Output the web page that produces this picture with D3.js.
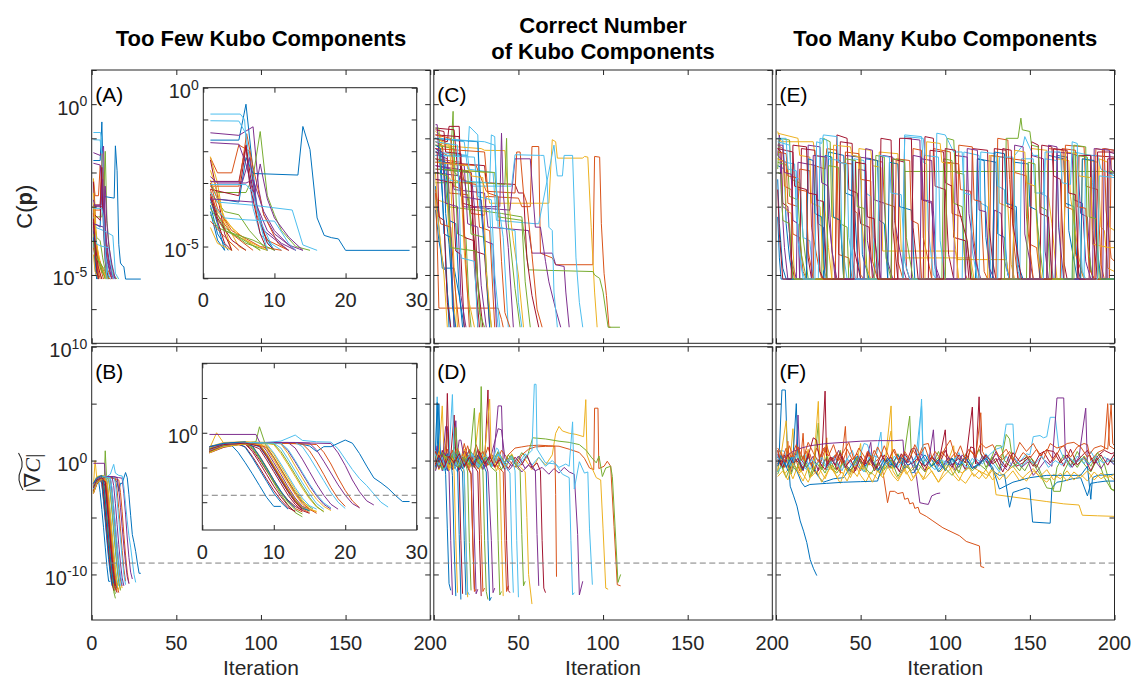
<!DOCTYPE html>
<html>
<head>
<meta charset="utf-8">
<script src="https://cdn.jsdelivr.net/npm/d3@7"></script>
<style>
body { margin: 0; background: #fff; }
svg { display: block; }
</style>
</head>
<body>
<div id="fig"></div>
<script>
// every trace is a flat list: iteration, log10(value), iteration, log10(value), ...
// column 1: too few Kubo components (main panels and insets share the data)
var fewCost = [
	[1,-1.65, 5,-1.65, 6,-0.52, 6.8,-2.2, 7.5,-3.7, 8.5,-4.6, 10,-5.12],
	[1,-2.2, 2,-2.68, 4,-2.68, 5,-1.8, 6.5,-2.0, 7.5,-4.0, 9,-4.8, 12,-5.12],
	[1,-2.17, 1.5,-2.6, 2,-3.0, 3,-4.4, 4,-5.12],
	[1,-1.42, 5,-1.5, 7,-1.23, 7.8,-3.2, 8.5,-4.0, 10,-4.6, 13,-5.12],
	[1,-3.1, 2,-3.3, 6,-3.3, 7,-2.8, 8,-1.38, 9,-3.4, 10,-4.0, 11,-4.5, 13,-5.0, 15,-5.12],
	[1,-0.83, 5.2,-0.83, 5.8,-1.0, 6.3,-2.6, 7,-3.8, 8,-4.6, 10,-5.12],
	[1,-2.95, 5,-2.95, 6,-1.8, 6.7,-2.9, 8,-4.2, 9,-4.9, 10,-5.12],
	[1,-3.0, 2,-3.5, 5,-3.6, 6,-2.2, 7,-2.7, 13.3,-2.75, 14,-1.22, 15,-1.95, 16,-4.1, 17,-4.65, 18,-4.72, 19,-4.76, 20,-5.12, 29,-5.12],
	[1,-3.1, 5,-3.1, 6.1,-1.45, 7,-2.5, 8.5,-4.0, 10.5,-4.9, 12,-5.12],
	[1,-3.4, 2,-3.9, 4,-4.4, 6,-4.8, 8,-5.12],
	[1,-1.73, 5,-1.78, 6,-2.4, 7,-3.3, 8.5,-4.5, 12,-5.12],
	[1,-3.3, 3,-3.9, 5,-4.0, 6.5,-4.5, 9,-5.12],
	[1,-1.04, 5,-1.05, 6,-1.45, 6.8,-2.8, 8,-4.2, 9.5,-4.9, 11,-5.12],
	[1,-2.27, 2,-3.4, 3,-4.6, 4,-5.12],
	[1,-3.5, 2,-4.3, 3,-5.12],
	[1,-3.2, 2,-4.0, 4,-4.6, 7,-5.12],
	[1,-2.6, 2,-3.3, 3,-4.2, 5,-5.0, 6,-5.12],
	[1,-2.8, 2,-3.0, 6,-3.0, 7,-2.9, 8.5,-3.9, 10,-4.5, 12,-4.95, 14,-5.12],
	[1,-3.6, 3,-4.4, 6,-4.9, 9,-5.12],
	[1,-3.3, 2,-3.6, 7,-3.7, 12.5,-3.85, 14,-4.95, 16,-5.12],
	[1,-3.2, 5,-3.4, 6,-1.85, 6.5,-3.0, 8,-4.6, 9,-5.12],
	[1,-3.7, 2,-4.6, 3.5,-5.12],
	[1,-3.0, 2,-3.8, 4,-4.5, 8,-5.0, 11,-5.12],
	[1,-2.9, 2,-3.5, 3,-4.1, 5,-4.7, 9,-5.12],
	[1,-2.96, 5.5,-2.96, 6.5,-2.2, 7.5,-3.7, 9,-4.5, 11,-4.9, 13,-5.12],
	[1,-3.8, 3,-4.5, 7,-4.8, 10,-5.12],
	[1,-3.6, 3,-4.1, 6,-4.16, 10,-4.2, 12,-4.9, 13,-5.12],
	[1,-3.35, 2,-4.1, 4,-4.8, 6,-5.12],
	[1,-3.9, 2,-4.8, 3,-5.12],
	[1,-4.2, 3,-4.7, 5,-5.12],
	[1,-4.4, 2,-4.9, 4,-5.12],
	[1,-3.5, 7,-3.6, 8,-2.4, 9,-3.5, 10,-4.1, 12,-4.7, 14,-5.12],
	[1,-4.0, 2,-4.4, 5,-4.7, 8,-5.12],
	[1,-3.05, 6,-3.05, 7,-3.3, 8,-4.3, 9,-5.12],
	[1,-3.45, 2,-4.2, 3,-4.9, 4,-5.12]
];

var fewGrad = [
	[1,-2.0, 3,-1.6, 6,-1.4, 10,-1.5, 13,-1.45, 15,-1.9, 16,-2.7, 17,-2.0, 18,-2.0, 20,-1.05, 21,-1.5, 22,-3.0, 23,-4.8, 24,-6.5, 25,-7.2, 26,-8.0, 27,-9.0, 28,-9.9, 29,-9.9],
	[1,-2.4, 3,-1.8, 6,-1.5, 10,-1.5, 14,-1.6, 16,-1.7, 17,-2.8, 18,-4.5, 19,-6.5, 20,-8.3, 21,-9.8, 22,-10.8],
	[1,-2.3, 2,0.0, 3,-1.5, 6,-1.3, 9,-1.4, 11,-1.6, 12,-3.0, 13,-4.8, 14,-6.5, 15,-8.2, 16,-9.6, 17,-10.6, 18,-11.2],
	[1,-2.2, 4,-1.6, 8,-1.4, 12,-1.4, 16,-1.5, 18,-1.55, 19,-2.9, 20,-4.7, 21,-6.8, 22,-8.5, 23,-9.8, 24,-10.4],
	[1,-2.5, 3,-1.8, 6,-1.5, 7.5,-1.3, 8,0.86, 8.7,-1.3, 9,-2.0, 10,-3.5, 11,-5.2, 12,-6.9, 13,-8.5, 14,-9.9, 15.5,-11.0],
	[1,-2.1, 4,-1.5, 8,-1.5, 11,-1.2, 13,-0.33, 14,-1.1, 16,-1.3, 18,-1.35, 19,-2.3, 20,-3.8, 21,-5.3, 22,-6.6, 23,-7.6, 24,-8.8, 25,-10.0, 26,-10.7],
	[1,-2.8, 3,-2.0, 5,-1.6, 6,-1.6, 7,-2.4, 8,-3.9, 9,-5.5, 10,-7.1, 11,-8.5, 12,-9.7, 13,-10.6, 14,-11.2],
	[1,-2.6, 3,-1.9, 4,-1.7, 5,-2.8, 6,-4.3, 7,-5.9, 8,-7.6, 9,-9.3, 10,-10.6, 11,-10.6],
	[1,-2.2, 4,-1.6, 8,-1.4, 12,-1.5, 14,-1.6, 15,-2.6, 16,-4.2, 17,-6.0, 18,-7.9, 19,-9.5, 20,-10.6],
	[1,-2.0, 3,-1.4, 6,-1.3, 8,-1.6, 9,-3.0, 10,-4.7, 11,-6.4, 12,-8.1, 13,-9.6, 14,-10.7, 15,-11.2],
	[1,-0.24, 7.5,-0.24, 8,-1.3, 9,-2.6, 10,-4.3, 11,-6.0, 12,-7.8, 13,-9.4, 14,-10.6, 15,-11.0],
	[1,-2.4, 3,-1.7, 6,-1.5, 7,-2.2, 8,-3.7, 9,-5.4, 10,-7.2, 11,-8.9, 12,-10.4, 13,-11.5, 14,-12.1],
	[1,-2.3, 4,-1.6, 9,-1.4, 13,-1.4, 14,-2.0, 15,-3.5, 16,-5.2, 17,-6.9, 18,-8.6, 19,-10.0, 20,-10.9],
	[1,-2.9, 3,-2.1, 5,-1.7, 6,-2.0, 7,-3.4, 8,-5.0, 9,-6.7, 10,-8.3, 11,-9.7, 12,-10.8, 13,-11.3],
	[1,-2.5, 3,-1.8, 5,-1.5, 6,-2.1, 7,-3.6, 8,-5.3, 9,-7.0, 10,-8.7, 11,-10.0, 12,-11.0],
	[1,-2.7, 3,-1.9, 6,-1.6, 7,-1.9, 8,-3.3, 9,-5.0, 10,-6.8, 11,-8.5, 12,-9.9, 13,-10.9, 14,-11.4],
	[1,-2.4, 3,-1.7, 6,-1.4, 8,-1.5, 9,-2.3, 10,-3.9, 11,-5.6, 12,-7.3, 13,-8.9, 14,-10.3, 15,-11.1, 16,-11.3],
	[1,-2.1, 4,-1.5, 8,-1.4, 12,-1.4, 13,-2.2, 14,-3.8, 15,-5.6, 16,-7.4, 17,-9.0, 18,-10.3, 19,-11.0],
	[1,-2.6, 3,-1.8, 6,-1.5, 8,-1.7, 9,-3.1, 10,-4.8, 11,-6.5, 12,-8.2, 13,-9.7, 14,-10.8, 15,-11.3],
	[1,-2.2, 3,-1.6, 7,-1.4, 9,-1.6, 10,-2.9, 11,-4.5, 12,-6.2, 13,-7.9, 14,-9.4, 15,-10.5, 16,-11.0],
	[1,-2.7, 3,-1.9, 6,-1.6, 7,-2.7, 8,-4.3, 9,-6.0, 10,-7.7, 11,-9.2, 12,-10.5, 13,-11.4],
	[1,-2.3, 3,-1.6, 6,-1.4, 8,-2.0, 9,-3.5, 10,-5.2, 11,-6.9, 12,-8.5, 13,-9.9, 14,-10.9, 15,-11.2],
	[1,-2.5, 4,-1.7, 7,-1.5, 9,-2.1, 10,-3.6, 11,-5.3, 12,-7.0, 13,-8.7, 14,-10.1, 15,-11.0, 16,-11.6],
	[1,-2.2, 4,-1.5, 8,-1.4, 10,-1.7, 11,-3.0, 12,-4.6, 13,-6.3, 14,-8.0, 15,-9.5, 16,-10.7, 17,-11.3],
	[1,-2.0, 4,-1.5, 9,-1.4, 11,-1.5, 12,-2.6, 13,-4.2, 14,-5.9, 15,-7.6, 16,-9.1, 17,-10.3, 18,-11.0],
	[1,-2.8, 3,-2.0, 6,-1.6, 7,-2.0, 8,-3.5, 9,-5.1, 10,-6.9, 11,-8.6, 12,-10.0, 13,-11.1, 14,-11.7],
	[1,-2.4, 4,-1.6, 8,-1.4, 11,-1.5, 12,-2.4, 13,-4.0, 14,-5.7, 15,-7.4, 16,-8.9, 17,-10.1, 18,-10.8],
	[1,-2.6, 3,-1.8, 6,-1.5, 8,-2.3, 9,-3.9, 10,-5.6, 11,-7.3, 12,-9.0, 13,-10.3, 14,-11.2, 15,-11.6],
	[1,-2.0, 3,-1.5, 6,-1.3, 7,-1.9, 8,-3.4, 9,-5.1, 10,-6.8, 11,-8.4, 12,-9.8, 13,-10.8],
	[1,-2.6, 3,-1.8, 7,-1.5, 8,-1.8, 9,-3.2, 10,-4.9, 11,-6.6, 12,-8.3, 13,-9.8, 14,-11.0, 15,-11.5],
	[1,-2.9, 3,-2.0, 6,-1.6, 9,-1.8, 10,-3.1, 11,-4.8, 12,-6.5, 13,-8.2, 14,-9.7, 15,-10.9, 16,-11.4],
	[1,-2.3, 4,-1.6, 9,-1.4, 13,-1.4, 15,-1.5, 16,-2.5, 17,-4.1, 18,-5.8, 19,-7.5, 20,-9.0, 21,-10.2, 22,-10.8],
	[1,-2.3, 4,-1.6, 8,-1.4, 10,-1.6, 11,-2.7, 12,-4.3, 13,-6.0, 14,-7.7, 15,-9.3, 16,-10.6, 17,-11.4],
	[1,-2.5, 3,-1.7, 7,-1.4, 10,-1.5, 11,-2.2, 12,-3.8, 13,-5.5, 14,-7.2, 15,-8.8, 16,-10.2, 17,-11.0],
	[1,-2.4, 3,-1.7, 6,-1.5, 8,-1.9, 9,-3.4, 10,-5.1, 11,-6.8, 12,-8.5, 13,-10.0, 14,-11.0]
];

// column 2: correct number of Kubo components
var rightCost = [
	[1,-2.4, 5,-4.8, 7,-4.85, 8,-5.5, 10,-6.53],
	[1,-1.3, 8,-1.5, 9,-2.6, 20,-2.65, 22,-3.2, 30,-3.25, 31,-2.7, 50,-2.75, 52,-3.0, 57,-3.0, 58,-1.24, 62,-1.24, 63,-4.36, 70,-4.5, 72,-4.7, 94,-4.7, 95,-1.53, 98,-1.55, 99,-3.5, 100.6,-4.95, 102,-5.6, 103.5,-6.53, 104.5,-6.53],
	[1,-1.0, 10,-1.2, 12,-1.9, 30,-2.0, 33,-2.9, 68,-2.9, 70,-1.04, 72,-1.1, 73,-1.58, 88,-1.58, 89,-1.53, 91,-1.55, 93,-3.6, 95,-5.5, 96.5,-6.53],
	[1,-1.8, 10,-1.9, 12,-2.5, 30,-2.6, 32,-3.6, 56,-3.7, 58,-4.36, 70,-4.36, 72,-4.7, 77,-4.75, 78,-5.5, 80,-6.53],
	[1,-1.6, 6,-1.8, 8,-3.0, 25,-3.1, 40,-3.2, 52,-3.3, 56,-4.85, 94,-4.9, 95,-5.0, 98,-5.1, 100,-5.5, 103,-6.53, 110,-6.53],
	[1,-1.0, 18,-1.1, 20,-1.9, 35,-2.0, 37,-3.4, 60,-3.5, 62,-3.5, 71,-1.2, 73,-2.1, 76,-2.1, 77,-1.5, 82,-1.5, 84,-4.5, 86,-5.8, 88,-6.53],
	[1,-1.1, 5,-1.2, 6,-1.7, 30,-1.8, 31,-2.3, 48,-2.35, 50,-2.6, 53,-2.6, 55,-4.5, 58,-5.6, 62,-6.53],
	[1,-3.1, 3,-4.0, 6,-4.8, 12,-4.8, 15,-5.6, 18,-6.53],
	[1,-1.7, 25,-1.8, 31,-2.55, 48,-2.6, 49,-1.4, 51,-1.4, 53,-2.6, 55,-2.9, 58,-4.4, 61,-6.0, 64,-6.53],
	[1,-1.2, 28,-1.3, 30,-1.35, 42,-1.36, 44,-2.8, 47,-4.0, 50,-5.0, 53,-6.53],
	[1,-2.0, 15,-2.1, 17,-3.0, 45,-3.1, 48,-1.6, 57,-1.6, 60,-3.6, 63,-3.6, 66,-4.6, 68,-5.2, 72,-6.0, 75,-6.53],
	[1,-1.5, 10,-1.5, 11.4,-0.21, 12,-2.0, 18,-2.2, 24,-4.0, 28,-6.53],
	[1,-1.4, 20,-1.5, 22,-2.4, 46,-2.4, 48,-1.48, 63,-1.5, 65,-1.5, 67,-2.3, 68,-3.6, 70,-3.7, 71,-5.5, 73,-6.53],
	[1,-1.0, 8,-1.1, 9,-0.65, 15,-0.65, 16,-2.2, 22,-2.3, 24,-4.8, 27,-6.53],
	[1,-1.3, 3,-1.4, 5,-2.6, 7,-4.4, 9,-6.53],
	[1,-2.6, 2,-4.0, 3,-5.97, 38,-5.97, 40,-6.3, 41,-6.53],
	[1,-0.8, 4,-0.9, 6,-2.0, 10,-2.2, 12,-4.8, 14,-6.53],
	[1,-1.9, 22,-2.0, 24,-3.0, 39,-3.0, 40,-0.85, 41,-2.6, 44,-4.2, 47,-6.53],
	[1,-2.3, 30,-2.3, 42,-2.35, 43,-1.0, 44,-3.5, 48,-5.4, 51,-6.53],
	[1,-1.5, 20,-1.5, 21,-0.65, 26,-0.9, 27,-3.0, 33,-3.1, 35,-5.0, 38,-6.53],
	[1,-0.7, 12,-0.75, 14,-1.9, 22,-2.0, 24,-4.3, 30,-4.4, 33,-6.53],
	[1,-1.6, 7,-1.7, 9,-3.4, 13,-3.5, 15,-5.5, 17,-6.53],
	[1,-1.6, 16,-1.7, 18,-2.3, 25,-2.35, 27,-3.6, 33,-3.7, 36,-6.53],
	[1,-2.0, 2,-2.8, 8,-2.9, 10,-4.6, 13,-6.53],
	[1,-1.8, 14,-1.9, 16,-2.7, 28,-2.8, 30,-4.0, 35,-4.1, 37,-6.53],
	[1,-1.2, 12,-1.3, 14,-3.8, 19,-3.9, 21,-6.0, 22,-6.53],
	[1,-2.2, 33,-2.3, 34,-0.9, 36,-0.95, 37,-2.5, 41,-3.9, 44,-6.53],
	[1,-0.9, 15,-0.95, 17,-2.9, 24,-3.0, 26,-5.2, 29,-6.53],
	[1,-1.4, 6,-1.5, 7,-3.2, 9,-4.1, 11,-5.5, 12,-6.53],
	[1,-2.5, 4,-3.5, 10,-3.6, 12,-5.1, 15,-6.53],
	[1,-1.1, 9,-1.2, 11,-2.2, 16,-2.3, 18,-4.3, 20,-5.6, 24,-6.53],
	[1,-1.7, 18,-1.8, 20,-3.5, 26,-3.6, 28,-5.3, 31,-6.53],
	[1,-0.7, 3,-0.7, 4,-1.9, 20,-2.0, 22,-3.8, 30,-3.9, 32,-5.6, 34,-6.53],
	[1,-1.5, 24,-1.55, 26,-2.7, 34,-2.8, 36,-5.0, 39,-6.53],
	[1,-2.2, 11,-2.3, 13,-4.3, 16,-4.4, 18,-6.53],
	[1,-1.0, 26,-1.1, 28,-3.1, 31,-4.9, 33,-6.53],
	[1,-1.3, 30,-1.4, 32,-2.6, 38,-2.7, 40,-4.6, 42,-6.1, 45,-6.53],
	[1,-2.8, 3,-3.6, 6,-5.0, 8,-6.53],
	[1,-0.6, 2,-0.6, 3,-1.5, 8,-1.6, 10,-3.9, 12,-6.53],
	[1,-1.9, 36,-2.0, 38,-3.3, 52,-3.4, 54,-5.2, 57,-6.53],
	[1,-1.0, 30,-1.1, 36,-1.2, 38,-3.6, 48,-3.7, 50,-5.8, 52,-6.53],
	[1,-0.75, 6,-0.8, 7,-1.4, 16,-1.45, 18,-3.9, 24,-4.0, 26,-6.53],
	[1,-1.2, 4,-1.3, 6,-3.8, 10,-3.9, 11,-5.9, 13,-6.53],
	[1,-0.9, 10,-1.0, 12,-2.4, 17,-2.5, 19,-4.7, 21,-6.53],
	[1,-1.7, 20,-1.8, 22,-2.1, 29,-2.15, 31,-4.9, 34,-6.53],
	[1,-1.3, 5,-1.4, 7,-2.9, 14,-3.0, 16,-5.6, 19,-6.53],
	[1,-2.0, 8,-2.1, 10,-4.2, 25,-4.3, 27,-6.1, 30,-6.53],
	[1,-1.1, 14,-1.2, 16,-4.5, 24,-4.6, 26,-6.53],
	[1,-1.4, 2,-1.4, 3,-3.3, 6,-3.4, 8,-5.8, 10,-6.53]
];

var rightGrad = [
	[1,-0.5, 2,0.8, 3,5.0, 4,0.2, 5,-0.6, 6,0.4, 7,-1.2, 8,-6.0, 9,-10.8, 10,-11.4],
	[1,-0.2, 3,0.9, 5,-0.6, 7,1.4, 9,-0.3, 12,0.6, 15,-0.8, 18,1.5, 20,0.3, 23,-0.5, 26,0.9, 29,-0.2, 32,1.2, 35,-0.4, 38,0.7, 41,-0.6, 44,0.5, 48,1.1, 52,1.2, 56,1.3, 62,1.35, 68,1.3, 74,1.26, 80,1.0, 86,0.7, 89,0.2, 92,-0.65, 94.5,-0.8, 95,4.6, 97,4.6, 97.5,-0.7, 100.6,-0.5, 102.5,-0.06, 104.5,-0.5, 106.5,-5.8, 108.4,-10.9, 110.4,-11.0],
	[1,0.5, 3,-0.8, 6,0.4, 8,2.5, 9,-0.3, 12,0.6, 15,-0.5, 18,1.0, 21,-0.7, 24,0.3, 27,4.2, 28,0.2, 31,-0.6, 34,0.5, 37,-0.9, 40,0.2, 43,-0.4, 46,0.6, 50,-0.6, 54,0.1, 58,-0.8, 62,0.3, 66,-0.4, 70,0.5, 72,2.4, 74,3.0, 76,2.6, 80,2.4, 84,2.3, 88.5,2.1, 89.8,5.35, 90.5,0.5, 93,-0.5, 96,-1.5, 98.6,-1.7, 100,-6.0, 101.6,-11.2, 103,-11.3],
	[1,-0.4, 3,0.6, 5,-0.9, 8,0.2, 11,-0.5, 13,3.5, 14,0.1, 17,-0.7, 20,0.4, 23,-0.3, 26,1.0, 29,-0.8, 32,0.3, 35,-0.5, 38,4.8, 40,4.8, 41,0.0, 44,-0.9, 48,-0.2, 52,-1.0, 56,-0.4, 60,-0.9, 64,-0.6, 68,-1.2, 71,-0.7, 74,-1.1, 77,-0.6, 80,-1.0, 83,-1.2, 85,-6.5, 86,-11.8, 88,-10.6],
	[1,0.3, 3,-0.6, 6,0.8, 9,-0.4, 12,1.2, 15,0.2, 18,-0.5, 21,1.0, 24,0.3, 27,-0.6, 28,6.5, 29,0.2, 32,-0.4, 36,0.5, 40,-0.8, 44,0.5, 48,-0.3, 52,0.7, 55,0.2, 58.4,2.0, 66,1.9, 74,1.7, 80,1.6, 86,1.4, 90,0.9, 93,0.3, 96,-0.2, 97.6,0.4, 99.6,-1.4, 101.6,-0.65, 104.5,-0.5, 105.5,-1.4, 107.5,-6.9, 108.8,-10.7, 110.4,-10.0],
	[1,0.2, 2,5.6, 3,0.4, 5,-0.6, 8,0.5, 11,-0.2, 14,-1.0, 17,0.3, 20,-0.6, 23,0.4, 26,-0.3, 30,0.8, 34,-0.5, 38,0.2, 42,-0.8, 46,0.4, 50,-0.3, 54,0.6, 58,-0.4, 62,0.3, 66,-0.5, 70,0.0, 74,-0.6, 78,-0.3, 80,-0.5, 82,3.4, 83,-2.5, 86,-0.1, 89,-1.1, 91,-1.0, 92,-6.0, 93.7,-10.9],
	[1,0.6, 3,-0.5, 5,0.9, 7,-0.2, 9,0.5, 11,-0.8, 13,0.3, 15,-0.4, 18,0.8, 21,0.2, 24,-0.6, 27,0.4, 30,-0.3, 32,6.2, 33,0.4, 36,-0.5, 40,0.2, 44,-0.7, 48,0.3, 52,-0.4, 55,0.5, 58,-0.6, 61,-0.2, 63,-0.9, 64,-7.0, 65,-11.2, 66,-11.6],
	[1,0.9, 2,5.1, 3,0.5, 4,-0.4, 6,0.3, 8,-0.9, 10,0.1, 11,-1.3, 12,-7.5, 13,-11.9],
	[1,-0.3, 3,0.7, 5,-0.5, 8,1.0, 10,-0.2, 13,0.6, 16,-0.7, 19,0.5, 22,-0.3, 25,1.4, 28,0.2, 31,-0.5, 34,0.6, 37,-0.2, 40,0.9, 44,0.1, 48,-0.6, 52,0.5, 56,1.0, 60,1.2, 66,1.25, 70,1.26, 71.5,1.26, 72,-3.0, 72.5,-10.2],
	[1,0.2, 2,1.0, 4,-0.6, 6,0.5, 9,-0.9, 12,0.2, 15,-0.4, 18,0.7, 21,-0.5, 24,0.3, 27,-0.8, 30,0.5, 34,-0.3, 38,0.4, 42,-0.6, 46,0.3, 50,-0.4, 54,-1.0, 55,-5.0, 56,-10.0, 58,-12.6],
	[1,0.4, 2,1.3, 3,-0.3, 5,0.6, 7,-0.8, 10,0.3, 13,-0.5, 15,1.8, 16,1.8, 18,0.2, 21,-0.6, 24,0.4, 27,-0.4, 30,0.1, 32,-1.0, 34,-7.0, 35,-11.6, 36,-11.2],
	[1,-0.8, 3,0.1, 6,-0.6, 9,0.4, 12,-0.3, 15,0.7, 18,-0.5, 22,0.3, 26,-0.7, 30,0.2, 34,-0.4, 38,0.8, 42,-0.2, 46,0.5, 49,-0.6, 51,-0.9, 52,-6.5, 53,-11.0, 54,-10.6],
	[1,-0.6, 3,0.3, 6,-0.9, 9,0.5, 12,-0.2, 15,0.8, 18,-0.5, 22,0.2, 26,-0.6, 30,0.4, 34,-0.3, 38,0.6, 42,-0.4, 46,0.2, 50,-0.5, 54,0.3, 58,0.9, 59.4,6.7, 60.4,6.7, 61,1.0, 66,-0.2, 72,-0.3, 76,-1.2, 80,-1.5, 81,-7.0, 82,-11.8, 83,-11.6],
	[1,0.1, 3,-0.7, 5,0.6, 8,-0.3, 10,0.4, 12,4.0, 13,0.5, 15,-0.4, 18,0.3, 20,-0.6, 22,-1.2, 23,-6.8, 24,-11.3],
	[1,-0.3, 2,0.9, 4,-0.5, 6,0.4, 8,-0.2, 10,0.6, 12,-0.7, 14,-0.4, 15,-6.5, 16,-12.2],
	[1,0.8, 3,-0.2, 5,0.5, 8,-0.6, 11,0.3, 14,1.1, 17,-0.3, 20,0.5, 23,-0.5, 26,0.2, 29,0.8, 32,-0.4, 35,0.3, 38,-0.6, 41,-1.0, 42,-7.0, 43,-11.5, 44,-11.0],
	[1,-0.7, 3,0.2, 5,4.8, 6,0.6, 8,-0.4, 11,0.3, 14,-0.6, 16,0.1, 18,-1.1, 19,-7.2, 20,-12.0],
	[1,0.3, 3,-0.5, 6,0.7, 9,-0.3, 12,0.4, 15,-0.8, 18,0.2, 21,0.9, 24,-0.4, 27,0.3, 30,-0.6, 34,0.5, 38,2.8, 40,2.7, 42,0.2, 46,-0.5, 50,0.4, 54,-0.7, 57,-0.2, 60,-0.9, 61,-6.5, 62,-11.0],
	[1,-0.2, 3,0.6, 5,-0.8, 8,0.3, 11,-0.4, 13,2.9, 14,0.5, 17,-0.3, 20,0.4, 23,-0.6, 26,0.2, 29,-0.9, 30,-7.0, 31,-11.5, 32,-12.2],
	[1,0.5, 3,-0.6, 5,0.3, 8,-0.3, 11,0.7, 14,-0.5, 17,0.4, 20,-0.2, 23,0.6, 26,-0.7, 30,0.3, 34,-0.5, 37,1.1, 38,1.0, 40,0.0, 43,-0.6, 45,-1.1, 46,-7.5, 47,-11.6],
	[1,-0.5, 3,0.5, 6,-0.4, 9,0.8, 12,-0.3, 15,0.5, 18,-0.6, 21,0.3, 24,-0.5, 26,-1.0, 27,-7.0, 28,-11.9],
	[1,0.4, 3,-0.5, 5,0.3, 7,-0.8, 9,0.5, 11,-0.3, 13,0.6, 15,-0.5, 17,-1.0, 18,-7.0, 19,-11.8],
	[1,-0.4, 3,0.8, 5,-0.3, 8,0.5, 11,-0.6, 14,0.4, 17,-0.2, 20,1.3, 22,0.2, 25,-0.5, 27,-0.8, 28,-6.5, 29,-11.5, 30,-11.2],
	[1,0.7, 3,-0.2, 6,0.4, 9,-0.7, 12,0.2, 15,-0.4, 18,0.6, 21,-0.6, 24,0.3, 27,-0.3, 30,0.5, 33,5.4, 34,0.2, 37,-0.5, 39,-0.9, 40,-7.0, 41,-11.9],
	[1,-0.9, 3,0.2, 5,-0.4, 7,3.0, 8,3.0, 9,0.3, 12,-0.5, 15,0.4, 18,-0.3, 21,0.5, 23,-0.8, 24,-6.8, 25,-11.7, 26,-11.3],
	[1,0.2, 3,-0.5, 5,0.7, 8,-0.2, 11,0.4, 14,-0.6, 17,0.3, 19,-0.4, 20,-1.0, 21,-7.2, 22,-11.4],
	[1,-0.2, 3,0.6, 6,-0.5, 9,0.3, 12,-0.6, 15,0.5, 18,-0.3, 22,0.7, 26,-0.4, 30,0.3, 34,-0.6, 38,0.5, 42,-0.2, 46,0.4, 48,-0.9, 49,-7.0, 50,-12.0],
	[1,0.8, 3,-0.3, 5,0.5, 7,-0.6, 8,5.9, 9,0.4, 11,-0.5, 13,0.3, 15,-1.0, 16,-7.0, 17,-11.7],
	[1,-0.6, 3,0.3, 5,-0.3, 8,0.6, 11,-0.5, 14,0.3, 17,-0.7, 20,0.2, 23,-0.4, 26,0.5, 29,-0.3, 31,-1.0, 32,-7.0, 33,-12.3, 34,-12.0],
	[1,0.3, 3,-0.6, 5,0.4, 8,-0.3, 11,0.9, 14,-0.4, 17,0.3, 20,-0.5, 22,-1.1, 23,-7.0, 24,-11.5, 25,-11.3],
	[1,-0.2, 3,0.7, 5,-0.5, 7,0.4, 9,-0.6, 11,0.2, 12,-1.0, 13,-7.0, 14,-11.6],
	[1,0.2, 3,-0.6, 5,0.5, 7,-0.4, 9,-1.0, 10,-7.0, 11,-11.8],
	[1,0.4, 3,-0.5, 6,0.5, 9,-0.2, 12,0.8, 15,-0.6, 18,0.3, 21,-0.4, 24,4.6, 25,0.2, 28,-0.5, 31,0.3, 34,-0.6, 37,-1.0, 38,-7.0, 39,-11.8, 40,-11.5],
	[1,0.6, 3,-0.4, 5,0.3, 7,-0.7, 9,0.5, 11,5.8, 12,0.3, 14,-0.5, 16,0.2, 18,-0.9, 19,-6.8, 20,-11.5, 21,-11.8],
	[1,-0.3, 3,0.5, 6,-0.6, 9,0.4, 12,-0.2, 15,0.6, 18,-0.5, 21,0.3, 24,-0.4, 27,0.8, 30,-0.3, 33,0.4, 36,-0.6, 39,0.2, 42,-0.8, 43,-7.0, 44,-11.4, 45,-11.6]
];

// column 3: too many Kubo components
var manyCost = [
	[1,-1.8, 5,-1.9, 6,-3.5, 8,-4.5, 10,-5.12, 30,-5.12, 31,-1.4, 40,-1.5, 41,-2.6, 46,-2.7, 48,-4.4, 50,-5.12, 118,-5.12, 119,-1.6, 130,-1.7, 131,-3.8, 135,-3.9, 137,-5.0, 138,-5.12, 160,-5.12, 161,-1.5, 170,-1.6, 171,-2.9, 176,-3.0, 178,-4.8, 180,-5.12, 200,-5.12],
	[1,-1.2, 4,-1.3, 5,-2.4, 9,-2.5, 10,-3.8, 14,-3.9, 16,-4.9, 18,-5.12, 22,-5.12, 23,-1.8, 29,-1.9, 30,-1.3, 36,-1.35, 37,-4.4, 43,-4.5, 45,-5.12, 55,-5.12, 56,-1.6, 63,-1.7, 64,-2.9, 70,-3.0, 72,-4.6, 75,-5.12, 92,-5.12, 93,-1.3, 103,-1.4, 104,-3.2, 110,-3.3, 112,-5.0, 113,-5.12, 126,-5.12, 127,-1.5, 140,-1.6, 141,-2.0, 148,-2.1, 150,-4.1, 154,-4.2, 156,-5.12, 170,-5.12, 171,-1.2, 182,-1.25, 183,-2.4, 190,-2.5, 192,-4.7, 194,-5.12, 197,-5.12, 198,-1.6, 200,-1.6],
	[1,-0.8, 3,-1.1, 22,-1.1, 23,-1.5, 28,-1.55, 29,-3.1, 31,-4.2, 33,-5.12, 60,-5.12, 61,-1.4, 72,-1.45, 74,-4.3, 106,-4.3, 107,-4.55, 136,-4.55, 138,-5.12, 150,-5.12, 151,-1.3, 160,-1.35, 161,-2.7, 163,-3.5, 166,-5.12, 180,-5.12, 181,-1.6, 190,-1.7, 192,-3.6, 194,-3.7, 196,-4.8, 200,-4.9],
	[1,-1.5, 2,-0.9, 3,-2.5, 5,-4.2, 7,-5.12, 12,-5.12, 13,-1.7, 24,-1.8, 25,-3.5, 28,-3.6, 30,-5.12, 40,-5.12, 41,-1.5, 57,-1.6, 58,-2.8, 64,-2.9, 66,-4.6, 69,-5.12, 75,-5.12, 76,-1.0, 85,-1.05, 86,-2.8, 92,-2.9, 94,-4.8, 96,-5.12, 128,-5.12, 129,-3.1, 133,-3.2, 135,-4.6, 138,-5.12, 150,-5.12, 151,-1.5, 158,-1.6, 159,-4.3, 161,-5.12, 170,-5.12, 171,-1.4, 178,-1.5, 180,-3.2, 184,-3.3, 186,-4.9, 188,-5.12, 193,-5.12, 194,-1.3, 200,-1.35],
	[1,-1.9, 2,-1.0, 8,-1.05, 9,-2.2, 14,-2.3, 16,-3.9, 19,-5.12, 27,-5.12, 28,-1.0, 32,-1.1, 33,-3.3, 38,-3.4, 40,-5.12, 75,-5.12, 76,-1.97, 200,-1.97],
	[1,-1.1, 8,-1.2, 9,-2.1, 14,-2.2, 16,-3.9, 20,-4.0, 22,-5.12, 45,-5.12, 46,-1.6, 52,-1.65, 53,-2.6, 56,-2.7, 58,-4.5, 60,-5.12, 75,-5.12, 76,-0.9, 86,-0.95, 87,-1.7, 89,-1.75, 90,-3.7, 93,-5.0, 95,-5.12, 110,-5.12, 111,-1.4, 120,-1.5, 121,-2.9, 125,-3.0, 127,-4.9, 129,-5.12, 140,-5.12, 141,-1.5, 146,-1.2, 147,-0.95, 152,-1.5, 155,-1.5, 156,-2.6, 160,-2.7, 162,-4.5, 164,-5.12, 175,-5.12, 176,-1.4, 186,-1.5, 187,-2.3, 190,-4.6, 192,-5.12, 195,-5.12, 196,-2.0, 200,-2.1],
	[1,-1.3, 3,-1.4, 4,-2.9, 7,-3.0, 9,-4.6, 11,-5.12, 14,-5.12, 15,-1.3, 23,-1.35, 24,-2.8, 28,-2.85, 30,-5.12, 35,-5.12, 36,-0.9, 42,-1.0, 43,-2.5, 48,-2.6, 50,-3.5, 55,-3.6, 57,-5.12, 68,-5.12, 69,-1.6, 76,-1.7, 77,-4.8, 79,-5.12, 87,-5.12, 88,-0.95, 93,-1.0, 94,-2.4, 100,-2.5, 102,-4.4, 105,-5.12, 115,-5.12, 116,-1.3, 125,-1.35, 126,-3.6, 128,-4.6, 130,-5.12, 150,-5.12, 151,-1.1, 155,-1.2, 156,-3.2, 161,-3.3, 163,-5.12, 185,-5.12, 186,-1.5, 200,-1.55],
	[1,-2.2, 2,-3.5, 4,-4.8, 6,-5.12, 28,-5.12, 29,-1.5, 33,-1.55, 34,-3.3, 38,-3.4, 40,-5.12, 52,-5.12, 53,-1.6, 60,-1.65, 61,-3.4, 64,-3.5, 66,-5.12, 118,-5.12, 119,-1.6, 123,-1.65, 124,-3.9, 127,-5.12, 140,-5.12, 141,-1.7, 149,-1.75, 150,-3.0, 154,-3.1, 156,-5.12, 165,-5.12, 166,-1.5, 172,-1.55, 173,-3.7, 178,-5.12, 200,-5.12],
	[1,-1.6, 6,-1.7, 7,-2.9, 13,-3.0, 14,-1.9, 20,-1.95, 21,-3.6, 25,-4.7, 27,-5.12, 35,-5.12, 36,-1.7, 45,-1.75, 46,-3.1, 48,-3.2, 50,-5.0, 52,-5.12, 80,-5.12, 81,-1.3, 86,-1.35, 87,-3.9, 90,-4.6, 92,-5.12, 100,-5.12, 101,-1.7, 108,-1.75, 109,-2.5, 115,-2.55, 117,-4.0, 120,-5.12, 130,-5.12, 131,-1.0, 137,-1.05, 138,-2.2, 141,-4.3, 143,-5.12, 160,-5.12, 161,-1.3, 170,-1.35, 171,-3.0, 176,-3.1, 177,-4.4, 182,-5.12, 188,-5.12, 189,-1.3, 194,-1.35, 195,-3.1, 198,-4.5, 200,-4.6],
	[1,-0.85, 13,-1.0, 14,-1.5, 20,-1.55, 21,-2.9, 26,-3.0, 28,-4.8, 30,-5.12, 48,-5.12, 49,-1.3, 56,-1.35, 57,-1.8, 62,-1.85, 63,-4.3, 75,-4.3, 76,-4.5, 115,-4.5, 117,-5.12, 125,-5.12, 126,-1.5, 131,-1.55, 132,-2.9, 137,-3.0, 139,-4.7, 141,-5.12, 165,-5.12, 166,-1.6, 173,-1.65, 174,-2.7, 179,-4.5, 182,-5.12, 190,-5.12, 191,-1.6, 196,-1.7, 197,-3.6, 200,-3.7],
	[1,-1.5, 3,-1.6, 4,-3.0, 7,-3.1, 9,-4.5, 12,-5.12, 18,-5.12, 19,-1.2, 26,-1.25, 27,-2.3, 31,-2.4, 33,-4.3, 36,-5.12, 48,-5.12, 49,-1.9, 53,-1.95, 54,-4.0, 58,-5.12, 62,-5.12, 63,-1.5, 69,-1.55, 70,-3.4, 75,-4.8, 77,-5.12, 85,-5.12, 86,-1.6, 92,-1.65, 93,-3.1, 95,-5.12, 105,-5.12, 106,-1.5, 113,-1.55, 114,-3.2, 118,-4.6, 121,-5.12, 140,-5.12, 141,-1.2, 146,-1.25, 147,-3.8, 152,-5.12, 165,-5.12, 166,-1.4, 175,-1.45, 176,-2.8, 181,-2.9, 183,-4.6, 186,-5.12, 196,-5.12, 197,-1.4, 200,-1.45],
	[1,-1.7, 7,-1.8, 8,-2.7, 13,-2.8, 15,-4.4, 18,-5.12, 30,-5.12, 31,-1.8, 37,-1.85, 38,-3.5, 42,-3.6, 43,-5.12, 58,-5.12, 59,-1.5, 64,-1.55, 65,-4.5, 68,-5.12, 98,-5.12, 99,-1.6, 104,-1.65, 105,-2.9, 110,-3.0, 112,-5.12, 135,-5.12, 136,-1.0, 143,-1.0, 144.7,-0.41, 145.5,-0.75, 150,-0.8, 151,-1.2, 155,-1.25, 156,-3.0, 160,-3.1, 162,-5.12, 175,-5.12, 176,-1.2, 183,-1.25, 184,-4.0, 187,-5.12, 200,-5.12],
	[1,-1.0, 4,-1.05, 5,-1.7, 11,-1.75, 12,-3.3, 15,-4.8, 17,-5.12, 25,-5.12, 26,-1.0, 30,-1.05, 31,-1.6, 38,-1.65, 39,-4.1, 42,-5.12, 75,-5.12, 76,-0.95, 87,-1.0, 88,-1.5, 96,-1.55, 97,-4.0, 100,-5.12, 120,-5.12, 121,-1.4, 130,-1.45, 131,-2.4, 135,-2.5, 136,-4.8, 138,-5.12, 144,-5.12, 145,-1.6, 152,-1.6, 153,-2.6, 158,-2.6, 159,-1.6, 166,-1.65, 167,-3.4, 169,-5.12, 182,-5.12, 183,-1.5, 190,-1.5, 192,-1.9, 200,-2.1],
	[1,-1.3, 10,-1.4, 11,-2.4, 18,-2.5, 19,-4.5, 21,-5.12, 37,-5.12, 38,-1.1, 45,-1.15, 46,-4.2, 50,-5.12, 61,-5.12, 62,-1.0, 68,-1.05, 69,-3.6, 72,-5.12, 90,-5.12, 91,-1.35, 99,-1.4, 100,-2.3, 104,-2.4, 105,-3.9, 112,-4.0, 114,-5.12, 128,-5.12, 129,-1.3, 136,-1.35, 137,-3.0, 141,-3.1, 143,-5.12, 156,-5.12, 157,-1.2, 163,-1.25, 164,-2.1, 168,-2.2, 170,-4.6, 172,-5.12, 178,-5.12, 179,-1.5, 186,-1.5, 187,-3.7, 190,-5.12, 195,-5.12, 196,-1.6, 200,-1.6],
	[1,-3.3, 2,-4.5, 3,-5.12, 18,-5.12, 19,-1.6, 22,-1.65, 23,-3.2, 27,-3.3, 29,-5.12, 44,-5.12, 45,-1.5, 50,-1.55, 51,-4.4, 55,-5.12, 66,-5.12, 67,-1.7, 72,-1.75, 73,-3.0, 80,-3.1, 82,-5.12, 128,-5.12, 129,-1.4, 135,-1.45, 136,-2.9, 142,-3.0, 143,-4.7, 146,-5.12, 180,-5.12, 181,-1.6, 188,-1.65, 189,-3.9, 192,-5.12, 200,-5.12],
	[1,-1.4, 6,-1.45, 7,-2.1, 12,-2.15, 13,-2.5, 18,-2.55, 19,-4.3, 22,-5.12, 40,-5.12, 41,-1.4, 49,-1.45, 50,-2.2, 56,-2.25, 57,-4.6, 60,-5.12, 70,-5.12, 71,-1.6, 79,-1.65, 80,-3.4, 84,-3.5, 86,-5.12, 107,-5.12, 108,-1.2, 116,-1.25, 117,-2.8, 121,-2.85, 123,-4.9, 125,-5.12, 138,-5.12, 139,-1.6, 147,-1.65, 148,-3.3, 152,-5.12, 168,-5.12, 169,-1.3, 177,-1.35, 178,-3.0, 183,-3.05, 185,-4.8, 188,-5.12, 192,-5.12, 193,-1.3, 200,-1.35],
	[1,-1.6, 5,-1.7, 6,-3.1, 9,-3.2, 11,-5.12, 33,-5.12, 34,-1.2, 44,-1.25, 45,-1.5, 50,-1.55, 51,-3.6, 53,-4.7, 56,-5.12, 88,-5.12, 89,-1.1, 97,-1.15, 98,-1.7, 104,-1.75, 105,-3.7, 108,-5.12, 140,-5.12, 141,-1.35, 147,-1.4, 148,-2.3, 153,-2.4, 155,-4.5, 157,-5.12, 170,-5.12, 171,-1.4, 178,-1.45, 179,-2.1, 186,-2.15, 187,-4.1, 197,-4.2, 200,-4.2],
	[1,-1.2, 4,-1.2, 5,-2.0, 9,-2.05, 10,-3.4, 13,-3.5, 14,-5.12, 21,-5.12, 22,-1.5, 30,-1.55, 31,-3.3, 35,-5.12, 52,-5.12, 53,-1.3, 57,-1.35, 58,-3.9, 62,-5.12, 80,-5.12, 81,-1.5, 86,-1.55, 87,-2.8, 92,-2.85, 94,-4.7, 97,-5.12, 112,-5.12, 113,-1.3, 119,-1.35, 120,-3.1, 124,-3.15, 126,-4.8, 129,-5.12, 160,-5.12, 161,-1.2, 166,-1.25, 167,-3.6, 170,-5.12, 187,-5.12, 188,-1.3, 197,-1.35, 198,-1.9, 200,-2.0],
	[1,-2.0, 3,-2.05, 4,-3.4, 8,-3.5, 10,-5.12, 40,-5.12, 41,-1.6, 47,-1.65, 48,-3.0, 52,-3.05, 54,-5.12, 68,-5.12, 69,-1.6, 76,-1.65, 77,-3.9, 81,-5.12, 100,-5.12, 101,-1.0, 105,-1.05, 106,-2.0, 111,-2.05, 112,-3.8, 116,-5.12, 148,-5.12, 149,-1.7, 153,-1.75, 154,-3.3, 158,-5.12, 176,-5.12, 177,-1.5, 184,-1.55, 185,-3.3, 189,-3.35, 191,-5.12, 200,-5.12],
	[1,-1.0, 6,-1.0, 7,-1.9, 12,-1.95, 13,-4.0, 16,-5.12, 23,-5.12, 24,-1.1, 27,-1.15, 28,-0.9, 36,-0.95, 37,-1.7, 42,-1.75, 43,-3.9, 47,-5.12, 60,-5.12, 61,-1.5, 67,-1.55, 68,-2.6, 74,-2.65, 76,-4.6, 79,-5.12, 94,-5.12, 95,-0.85, 100,-0.9, 105,-1.4, 110,-1.4, 111,-2.6, 115,-2.65, 116,-4.3, 119,-5.12, 131,-5.12, 132,-1.55, 140,-1.55, 141,-3.0, 143,-4.9, 145,-5.12, 158,-5.12, 159,-1.4, 168,-1.4, 169,-2.3, 174,-2.35, 175,-1.1, 178,-1.15, 179,-3.2, 181,-4.9, 183,-5.12, 190,-5.12, 191,-2.1, 200,-2.15],
	[1,-2.5, 2,-3.8, 4,-5.12, 9,-5.12, 10,-1.2, 18,-1.25, 19,-2.6, 24,-2.65, 26,-4.9, 28,-5.12, 46,-5.12, 47,-1.7, 53,-1.75, 54,-3.3, 58,-3.35, 60,-5.12, 72,-5.12, 73,-1.0, 80,-1.0, 81,-3.6, 84,-5.12, 99,-5.12, 100,-1.3, 106,-1.35, 107,-2.9, 113,-4.0, 115,-5.12, 133,-5.12, 134,-1.3, 139,-1.35, 140,-3.5, 145,-5.12, 163,-5.12, 164,-1.3, 172,-1.35, 173,-2.6, 177,-2.65, 179,-5.12, 189,-5.12, 190,-1.4, 200,-1.4]
];

var manyGrad = [
	[1,0.2, 2,1.0, 3.5,6.2, 5.5,6.2, 6.5,1.8, 8.4,-2.25, 10.4,-3.1, 12.4,-4.0, 14.3,-5.3, 16.3,-6.2, 18.2,-7.2, 20.2,-8.7, 22.2,-9.5, 24.1,-10.1],
	[1,-0.3, 3,0.9, 5,-0.6, 7,1.7, 8,-0.5, 11,0.4, 14,-0.9, 16,2.4, 17,-0.2, 20,0.6, 23,-0.8, 26,0.3, 29,1.2, 31,-0.5, 35,0.5, 38,-1.1, 41,3.0, 42,-0.3, 46,0.2, 50,-0.9, 54,0.7, 57,-0.4, 60,0.1, 63.3,-1.1, 65.9,-3.7, 67.3,-2.7, 70,-2.7, 72,-2.9, 75,-2.8, 76,-3.4, 78,-3.3, 79,-3.8, 81,-3.7, 82,-4.2, 84,-4.1, 85,-4.6, 88.8,-4.9, 92.7,-5.3, 98.6,-5.9, 108.4,-6.6, 112.4,-7.1, 120.2,-7.5, 121,-9.3, 123,-9.4],
	[1,-0.5, 3,0.4, 5,-1.2, 8,-0.6, 10,2.8, 11,-0.4, 14,-1.1, 17,-0.2, 19,1.0, 21,-0.7, 25,-1.3, 28,-0.4, 30,2.0, 31,-0.6, 35,-1.0, 39,-0.3, 43,-0.9, 47,-0.5, 50,1.5, 51,-0.8, 55,-0.2, 60,-1.0, 64,-0.4, 68,2.6, 69,-0.7, 73,-0.1, 77,-1.2, 81,-0.5, 85,0.3, 89,-0.8, 93,-0.4, 97,-1.0, 101,-0.3, 105,1.3, 106,-0.7, 110,-1.1, 115,-0.5, 120,-0.9, 125,-1.3, 128,-0.6, 130,-3.0, 140,-3.2, 150,-3.4, 160,-3.6, 170,-3.8, 179,-3.9, 181,-4.8, 190,-4.85, 200,-4.9],
	[1,0.6, 3,-0.4, 6,0.2, 9,-1.0, 12,0.8, 13,4.0, 14,0.3, 18,-0.6, 22,0.4, 25,-0.9, 29,0.1, 33,-0.5, 37,0.9, 40,-0.3, 44,-1.0, 48,0.2, 52,-0.6, 56,1.6, 57,-0.1, 61,-0.8, 65,0.4, 70,-0.4, 74,-1.1, 76,-0.6, 80,-0.2, 83,-1.4, 85,-3.7, 88,-3.8, 90,-3.85, 92,-3.1, 95,-2.9, 97,-2.85],
	[1,-1.0, 2,0.3, 4,-0.7, 7,0.6, 9,-1.2, 11,-0.3, 13,1.2, 15,-0.9, 18,-0.2, 20,-1.5, 23,0.1, 25,3.3, 26,-0.4, 29,-1.1, 32,0.0, 35,-0.8, 38,0.9, 40,-0.5, 44,-1.2, 47,0.3, 50,-0.6, 53,-1.0, 56,0.5, 59,-0.4, 62,-1.3, 65,0.2, 68,-0.7, 72,0.6, 75,-0.3, 79,3.9, 80,0.4, 84,-0.9, 88,0.1, 92,-0.5, 96,0.8, 100,-0.8, 104,0.2, 108,-1.1, 112,0.6, 116,-0.4, 120,1.0, 124,-0.6, 128,0.3, 132,-0.8, 136,2.3, 138,1.9, 140,-0.2, 144,-0.9, 148,0.4, 152,-0.3, 156,-1.2, 160,-2.4, 164,-2.5, 166,-0.6, 170,0.5, 174,-0.5, 178,0.8, 182,-0.3, 186,-1.0, 190,0.2, 194,-1.5, 198,-2.5, 200,-2.6],
	[1,-0.1, 3,0.9, 5,0.8, 7,-0.5, 10,0.3, 14,-0.2, 17,0.6, 20,-0.8, 24,0.2, 28,-0.3, 31,-0.9, 34,0.4, 38,-0.6, 42,0.1, 45,0.9, 48,-0.4, 52,-1.0, 55,0.3, 58,-0.5, 62,2.5, 63,0.0, 66,-0.7, 70,0.4, 74,-0.3, 78,0.2, 82,-0.6, 86,4.8, 87,-0.4, 90,0.5, 93,0.3, 96,-0.8, 100,0.0, 104,-0.4, 108,0.7, 112,-0.9, 116,0.2, 120,-0.5, 124,0.6, 128,-0.2, 132,-1.0, 136,0.4, 140,-0.6, 144,-0.1, 148,0.6, 150,0.5, 152,2.1, 156,2.2, 158,2.0, 160,2.1, 162,3.8, 165,3.8, 167,1.2, 170,0.2, 174,-0.6, 178,0.4, 182,-0.3, 186,0.8, 190,-0.2, 194,0.3, 198,-0.1, 200,-0.3],
	[1,0.9, 3,-0.5, 5,0.5, 8,-0.8, 11,0.2, 14,-0.3, 16,-0.9, 19,0.6, 21,-0.4, 24,-1.2, 27,0.1, 29,6.1, 30,-0.6, 33,0.3, 36,-0.8, 39,0.4, 42,-0.5, 46,-1.1, 49,0.3, 52,-0.4, 55,0.8, 58,-0.9, 61,-0.3, 64,0.5, 67,-0.6, 70,-0.1, 73,-1.0, 76,0.6, 80,-0.3, 84,0.2, 88,-0.9, 92,0.4, 96,-0.5, 100,0.9, 104,-0.4, 108,0.2, 112,-0.8, 115,1.2, 117,1.1, 118,-0.3, 120,5.6, 121,0.6, 126,-0.4, 130,0.2, 134,-1.0, 138,0.5, 142,-0.5, 146,-0.2, 150,0.4, 154,-0.6, 158,0.8, 162,-0.2, 166,0.7, 170,-0.5, 174,1.0, 178,-0.4, 182,0.3, 186,-0.9, 190,0.4, 194,0.9, 198,0.6, 200,0.7],
	[1,-0.3, 4,0.4, 7,-0.9, 10,0.2, 12,5.0, 13,0.1, 16,-0.8, 19,0.3, 22,-0.5, 25,-1.4, 28,-1.9, 30,-1.8, 34,-1.6, 40,-1.5, 45,-0.3, 48,0.4, 52,-0.6, 56,0.2, 60,-0.9, 64,0.1, 68,-0.4, 72,0.5, 76,-0.7, 80,-0.2, 84,0.6, 88,-0.5, 92,0.1, 96,-1.0, 100,-0.3, 104,0.2, 108,-0.6, 112,0.3, 116,-0.7, 120,-0.2, 124,0.4, 128,-0.9, 132,-1.3, 135,-1.2, 138,-4.1, 140,-2.8, 144,-2.6, 148,-2.4, 150,-2.5, 151.6,-5.4, 162,-5.5, 163,-2.4, 166,-1.9, 170,-1.8, 175,-1.6, 180,-1.5, 184,-3.1, 186,-2.0, 190,-1.9, 195,-1.8, 200,-1.8],
	[1,0.9, 3,-0.2, 6,1.1, 9,0.3, 12,1.4, 15,0.0, 18,0.8, 21,-0.4, 24,1.1, 27,0.2, 30,1.3, 33,-0.1, 36,0.7, 39,-0.3, 42,1.0, 45,0.1, 48,0.6, 51,-0.5, 54,0.8, 57,0.0, 60,1.2, 63,0.3, 66,-0.4, 69,1.0, 72,0.1, 75,0.5, 78,-0.2, 81,0.9, 84,0.2, 87,1.4, 90,1.5, 92,0.3, 95,-0.3, 98,0.8, 102,0.0, 106,0.7, 110,-0.1, 114,1.0, 118,0.3, 121,4.2, 122,0.8, 126,-0.3, 130,0.6, 134,0.1, 138,0.8, 142,-0.2, 146,0.7, 150,0.2, 154,1.0, 158,0.1, 162,1.5, 166,1.1, 170,1.3, 174,0.3, 178,1.2, 182,1.5, 184,1.4, 186,0.0, 190,0.7, 194,1.0, 196,5.0, 197,1.3, 200,1.0],
	[1,-0.9, 3,0.5, 6,3.5, 7,-0.6, 10,-1.6, 13,-0.4, 16,-1.2, 19,-1.9, 22,-0.9, 25,5.2, 26,-0.8, 29,-1.6, 32,-0.5, 35,-1.2, 38,-2.0, 41,-0.7, 44,-1.5, 47,-0.4, 50,-1.3, 53,-1.9, 56,-1.0, 60,-1.6, 64,-0.8, 68,4.8, 69,-0.9, 72,-1.6, 76,-0.7, 80,-1.8, 84,-1.0, 88,-1.6, 92,-0.9, 96,-1.9, 100,-1.2, 104,-0.6, 108,-1.5, 112,-2.0, 116,-1.1, 120,-1.6, 124,-0.8, 128,-1.7, 132,-1.0, 136,-1.6, 140,-0.9, 144,-1.8, 148,-1.2, 152,-0.7, 156,-1.5, 160,-1.9, 164,-1.2, 168,-1.6, 172,-0.9, 176,-1.7, 180,-1.2, 184,-1.8, 188,-1.0, 192,-1.6, 196,-1.2, 200,-1.7],
	[1,-0.4, 5,0.3, 10,0.8, 15,1.1, 20,1.3, 30,1.5, 40,1.6, 50,1.7, 60,1.75, 70,1.75, 75,1.8, 76,-0.5, 80,0.4, 83,-0.8, 86,0.6, 90,-0.3, 93,2.7, 94,0.1, 98,-0.6, 102,0.3, 106,-0.9, 110,0.5, 114,-0.2, 118,-0.7, 122,0.4, 126,-0.5, 130,0.8, 133,-0.3, 137,-0.9, 141,0.2, 145,-0.6, 149,-0.1, 152,-1.3, 155,-0.8, 159,0.0, 163,-0.5, 166,5.5, 170,5.5, 171,0.3, 175,-0.6, 179,0.3, 183,4.6, 184,-0.4, 188,0.1, 192,-0.7, 196,0.2, 200,-0.4],
	[1,-1.2, 3,-0.4, 6,-1.5, 9,-0.3, 12,-0.9, 15,0.5, 18,-0.6, 21,-1.3, 24,-0.2, 27,-0.8, 30,0.4, 33,-0.7, 36,-1.1, 40,-0.1, 44,-0.9, 48,0.2, 52,-0.5, 56,-1.2, 60,-0.2, 64,-0.8, 68,0.1, 72,-1.4, 76,-0.4, 80,-0.9, 84,-0.3, 88,-1.0, 92,-0.4, 96,0.3, 100,-0.7, 104,-1.3, 108,-0.5, 112,-0.1, 116,-0.9, 120,-0.3, 124,-0.8, 128,0.5, 130,1.3, 133,1.3, 135,0.0, 139,-0.6, 143,-0.2, 147,-0.9, 151,0.2, 155,-0.6, 158,-1.6, 162,-1.6, 164,-2.7, 168,-2.7, 170,-1.0, 174,0.2, 178,-0.6, 182,0.4, 186,-0.5, 190,0.7, 194,-0.3, 198,-2.5, 200,-2.7],
	[1,-1.0, 3,-0.6, 6,0.2, 9,-0.5, 12,0.5, 15,-0.2, 18,-0.8, 21,0.1, 24,-0.4, 27,0.3, 30,-0.6, 33,0.0, 36,-0.3, 39,-0.9, 42,0.2, 45,-0.5, 48,-0.3, 52,1.5, 54,1.4, 56,0.5, 60,0.3, 64,-0.4, 68,0.2, 72,-0.6, 76,0.4, 80,-0.2, 84,0.6, 86,5.4, 87,0.3, 90,-0.3, 94,-0.8, 98,0.1, 102,-0.5, 106,0.3, 110,-0.2, 114,-0.7, 118,0.2, 122,-0.3, 126,0.5, 130,1.0, 134,1.2, 136,3.2, 140,3.2, 141,0.2, 145,-0.5, 149,0.1, 153,-0.3, 157,0.4, 161,-0.6, 165,0.0, 169,-0.4, 173,0.3, 177,-0.2, 181,0.2, 185,-0.3, 189,0.4, 193,-0.2, 197,0.0, 200,0.2],
	[1,0.1, 4,-0.6, 7,0.5, 10,-0.3, 13,0.2, 16,-0.7, 19,0.4, 22,2.0, 24,1.8, 26,-0.2, 29,-0.8, 32,0.3, 35,-0.4, 38,0.7, 41,-0.6, 44,0.1, 47,-0.9, 50,0.4, 53,-0.3, 56,0.2, 59,-0.7, 62,0.5, 65,-0.1, 68,0.3, 71,-0.6, 74,0.6, 77,-0.2, 80,1.0, 82,1.1, 84,0.0, 88,-0.5, 92,0.3, 96,-0.3, 100,2.7, 101,0.0, 104,-0.6, 108,0.5, 112,-0.2, 116,4.7, 117,0.3, 120,-0.4, 124,0.5, 128,-0.3, 132,0.2, 136,-0.6, 140,0.7, 144,-0.1, 148,0.3, 152,-0.5, 156,0.6, 160,0.9, 164,0.8, 168,-0.2, 172,0.5, 176,-0.4, 180,0.3, 184,0.9, 188,-0.3, 192,0.5, 196,-0.4, 200,0.6],
	[1,-0.5, 3,0.5, 6,-0.6, 9,0.3, 12,-0.8, 15,-1.9, 17,-2.3, 20,-2.1, 30,-2.0, 40,-1.9, 50,-1.85, 60,-1.8, 62,-0.8, 66,0.2, 70,-0.6, 74,0.3, 78,-0.4, 80,-1.1, 82,-1.0, 84,-0.2, 88,0.5, 92,-0.5, 96,0.1, 100,-0.9, 104,0.2, 108,-0.4, 112,0.3, 116,-0.7, 120,-0.3, 124,0.2, 128,-0.6, 132,-2.5, 136,-2.2, 140,-1.9, 150,-1.5, 160,-1.3, 170,-1.3, 180,-1.3, 184,-0.5, 186,-3.4, 187,-1.5, 190,-1.3, 200,-1.2],
	[1,1.1, 3,0.6, 5,-0.1, 8,1.3, 10,0.3, 13,1.2, 16,0.1, 19,1.6, 22,0.7, 25,-0.1, 28,1.1, 31,0.4, 34,1.4, 37,0.0, 40,0.8, 43,1.6, 46,0.1, 49,1.1, 52,0.4, 55,-0.4, 58,0.9, 61,0.1, 64,1.3, 67,0.2, 70,1.0, 73,-0.2, 76,0.8, 79,0.1, 82,1.4, 85,0.5, 88,1.2, 91,-0.1, 94,0.8, 97,0.2, 100,1.1, 103,1.8, 106,0.3, 109,1.3, 112,0.0, 115,0.9, 118,0.4, 121,1.5, 124,1.1, 128,1.4, 132,0.3, 136,1.0, 140,0.0, 144,1.6, 148,0.8, 152,1.5, 156,0.4, 160,1.0, 164,0.0, 168,1.1, 172,1.5, 176,1.6, 180,1.2, 184,0.3, 188,1.1, 192,1.3, 196,1.0, 198,4.9, 199,1.5, 200,1.3],
	[1,-1.4, 4,-0.9, 7,-1.7, 10,-0.2, 13,-1.0, 16,-1.8, 19,-0.6, 21,-1.4, 24,-0.9, 27,-1.9, 30,-1.1, 33,-0.4, 36,-1.5, 39,-1.0, 42,-1.8, 45,-0.8, 48,-1.4, 51,-0.3, 54,-1.1, 57,-1.9, 60,-0.9, 63,-1.5, 66,-0.5, 69,-1.3, 72,-1.8, 75,-1.0, 78,-0.4, 81,-1.5, 84,-0.9, 87,-1.7, 90,-0.5, 93,-1.2, 96,-1.9, 99,-1.0, 102,-0.4, 105,-1.3, 108,-1.8, 111,-0.9, 114,-0.6, 117,-1.4, 120,-0.9, 124,-1.6, 128,-0.8, 132,-1.7, 136,-1.0, 140,-0.5, 144,-1.3, 148,-1.8, 152,-0.9, 156,-1.4, 160,-0.8, 164,-1.7, 168,-1.1, 172,-1.8, 176,-1.0, 180,-1.5, 184,-0.9, 188,-1.7, 192,-1.1, 196,-1.5, 200,-1.2]
];

var iterTicks = [0, 50, 100, 150, 200];
var insetTicks = [0, 10, 20, 30];
var costExpTicks = [-7, -6, -5, -4, -3, -2, -1, 0, 1];
var gradExpTicks = [-10, -5, 0, 5, 10];
var insetCostExpTicks = [-6, -5, -4, -3, -2, -1, 0];
var costLabels = [0, -5];
var gradLabels = [10, 0, -10];
var gradTolExp = -9;
var columnTitles = [["Too Few Kubo Components"], ["Correct Number", "of Kubo Components"], ["Too Many Kubo Components"]];
var letters = [["(A)", "(B)"], ["(C)", "(D)"], ["(E)", "(F)"]];

var colors = ["#0072BD", "#D95319", "#EDB120", "#7E2F8E", "#77AC30", "#4DBEEE", "#A2142F"];
var ink = "#262626";
var font = "'Liberation Sans', Arial, Helvetica, sans-serif";

var colX = [91.7, 433.8, 776];
var panelW = 338.5;
var rowY = [70, 346.7];
var panelH = 273.3;

var svg = d3.select("#fig").append("svg")
	.attr("width", 1133)
	.attr("height", 680)
	.style("background", "#fff");

var clipCount = 0;

function pow10(v) { return Math.pow(10, v); }

function toPoints(flat) {
	var p = [];
	for(var i = 0; i < flat.length; i += 2) {
		p.push([flat[i], pow10(flat[i+1])]);
	}
	return p;
}

function makeAxes(x0, y0, w, h, xDom, yDom, xt, yt) {
	var x = d3.scaleLinear().domain(xDom).range([x0, x0 + w]);
	var y = d3.scaleLog().domain(yDom).range([y0 + h, y0]);
	var g = svg.append("g");
	var id = "clip" + (clipCount++);
	g.append("clipPath").attr("id", id).append("rect")
		.attr("x", x0).attr("y", y0).attr("width", w).attr("height", h);
	g.append("rect")
		.attr("x", x0).attr("y", y0).attr("width", w).attr("height", h)
		.attr("fill", "#fff");
	var content = g.append("g").attr("clip-path", "url(#" + id + ")");
	var len = 5;
	var axes = g.append("g");
	axes.append("g").attr("transform", "translate(0," + (y0 + h) + ")")
		.call(d3.axisBottom(x).tickValues(xt).tickSizeInner(-len).tickSizeOuter(0).tickFormat(""));
	axes.append("g").attr("transform", "translate(0," + y0 + ")")
		.call(d3.axisTop(x).tickValues(xt).tickSizeInner(-len).tickSizeOuter(0).tickFormat(""));
	axes.append("g").attr("transform", "translate(" + x0 + ",0)")
		.call(d3.axisLeft(y).tickValues(yt.map(pow10)).tickSizeInner(-len).tickSizeOuter(0).tickFormat(""));
	axes.append("g").attr("transform", "translate(" + (x0 + w) + ",0)")
		.call(d3.axisRight(y).tickValues(yt.map(pow10)).tickSizeInner(-len).tickSizeOuter(0).tickFormat(""));
	axes.selectAll(".domain").remove();
	axes.selectAll(".tick line").attr("stroke", ink).attr("stroke-width", 1);
	g.append("rect")
		.attr("x", x0).attr("y", y0).attr("width", w).attr("height", h)
		.attr("fill", "none").attr("stroke", ink).attr("stroke-width", 1);
	return {x: x, y: y, g: g, content: content};
}

function drawTraces(ax, traces) {
	var line = d3.line().x(d => ax.x(d[0])).y(d => ax.y(d[1]));
	ax.content.selectAll("path.trace")
		.data(traces)
		.enter()
		.append("path")
		.attr("class", "trace")
		.attr("d", d => line(toPoints(d)))
		.attr("fill", "none")
		.attr("stroke", (d, i) => colors[i % 7])
		.attr("stroke-width", 1)
		.attr("stroke-linejoin", "round");
}

function tolLine(ax) {
	var xr = ax.x.range();
	ax.content.append("line")
		.attr("x1", xr[0]).attr("x2", xr[1])
		.attr("y1", ax.y(pow10(gradTolExp))).attr("y2", ax.y(pow10(gradTolExp)))
		.attr("stroke", "#7f7f7f")
		.attr("stroke-width", 1)
		.attr("stroke-dasharray", "6,3.5");
}

function powLabel(ax, e) {
	var t = svg.append("text")
		.attr("x", ax.x.range()[0] - 4.5)
		.attr("y", ax.y(pow10(e)) + 10.5)
		.attr("text-anchor", "end")
		.style("font-family", font)
		.style("font-size", "20px")
		.attr("fill", ink);
	t.append("tspan").text("10");
	t.append("tspan").attr("dy", -8.5).style("font-size", "14px").text(e);
}

function xLabels(ax, vals, base) {
	svg.append("g").selectAll("text")
		.data(vals)
		.enter()
		.append("text")
		.attr("x", d => ax.x(d))
		.attr("y", base)
		.attr("text-anchor", "middle")
		.style("font-family", font)
		.style("font-size", "20px")
		.attr("fill", ink)
		.text(d => d);
}

var costData = [fewCost, rightCost, manyCost];
var gradData = [fewGrad, rightGrad, manyGrad];
var topAxes = [], botAxes = [];

for(var c = 0; c < 3; c++) {
	var ta = makeAxes(colX[c], rowY[0], panelW, panelH, [0, 200], [1e-7, 1e1], iterTicks, costExpTicks);
	drawTraces(ta, costData[c]);
	topAxes.push(ta);
	var ba = makeAxes(colX[c], rowY[1], panelW, panelH, [0, 200], [1e-14, 1e10], iterTicks, gradExpTicks);
	drawTraces(ba, gradData[c]);
	tolLine(ba);
	botAxes.push(ba);

	[rowY[0], rowY[1]].forEach(function(ry, r) {
		svg.append("text")
			.attr("x", colX[c] + 3.5)
			.attr("y", ry + 32)
			.style("font-family", font)
			.style("font-size", "21px")
			.attr("fill", "#000")
			.text(letters[c][r]);
	});

	xLabels(ba, c === 0 ? iterTicks : iterTicks.slice(1), 649.5);

	svg.append("text")
		.attr("x", colX[c] + panelW / 2)
		.attr("y", 675)
		.attr("text-anchor", "middle")
		.style("font-family", font)
		.style("font-size", "21px")
		.attr("fill", ink)
		.text("Iteration");

	var lines = columnTitles[c];
	lines.forEach(function(s, k) {
		svg.append("text")
			.attr("x", colX[c] + panelW / 2)
			.attr("y", lines.length === 1 ? 45.5 : 33 + 26 * k)
			.attr("text-anchor", "middle")
			.style("font-family", font)
			.style("font-size", "22px")
			.style("font-weight", "bold")
			.attr("fill", "#000")
			.text(s);
	});
}

costLabels.forEach(e => powLabel(topAxes[0], e));
gradLabels.forEach(e => powLabel(botAxes[0], e));

// insets (zoom on the first 30 iterations)
var insetA = makeAxes(203.3, 87.7, 213.4, 190.6, [0, 30], [1e-6, 1], insetTicks, insetCostExpTicks);
drawTraces(insetA, fewCost);
costLabels.forEach(e => powLabel(insetA, e));
xLabels(insetA, insetTicks, 307.3);

var insetB = makeAxes(202.3, 363.3, 214.4, 166.7, [0, 30], [1e-14, 1e10], insetTicks, gradExpTicks);
drawTraces(insetB, fewGrad);
tolLine(insetB);
powLabel(insetB, 0);
xLabels(insetB, insetTicks, 559);

// y axis titles
var cp = svg.append("text")
	.attr("transform", "translate(32," + (rowY[0] + panelH / 2) + ") rotate(-90)")
	.attr("text-anchor", "middle")
	.style("font-family", font)
	.style("font-size", "22px")
	.attr("fill", ink);
cp.append("tspan").text("C(");
cp.append("tspan").style("font-weight", "bold").text("p");
cp.append("tspan").text(")");

var gl = svg.append("g").attr("transform", "translate(40,473) rotate(-90)");
var gt = gl.append("text")
	.attr("text-anchor", "middle")
	.style("font-family", "'Liberation Serif', 'DejaVu Serif', serif")
	.style("font-size", "22px")
	.attr("fill", ink);
gt.append("tspan").text("|\u2207");
gt.append("tspan").style("font-style", "italic").text("C");
gt.append("tspan").text("|");
gl.append("path")
	.attr("d", "M-17,-17 C-9,-22 -3,-22 2,-19.5 C7,-17 13,-17 20,-21.5")
	.attr("fill", "none")
	.attr("stroke", ink)
	.attr("stroke-width", 1.1);
</script>
</body>
</html>
